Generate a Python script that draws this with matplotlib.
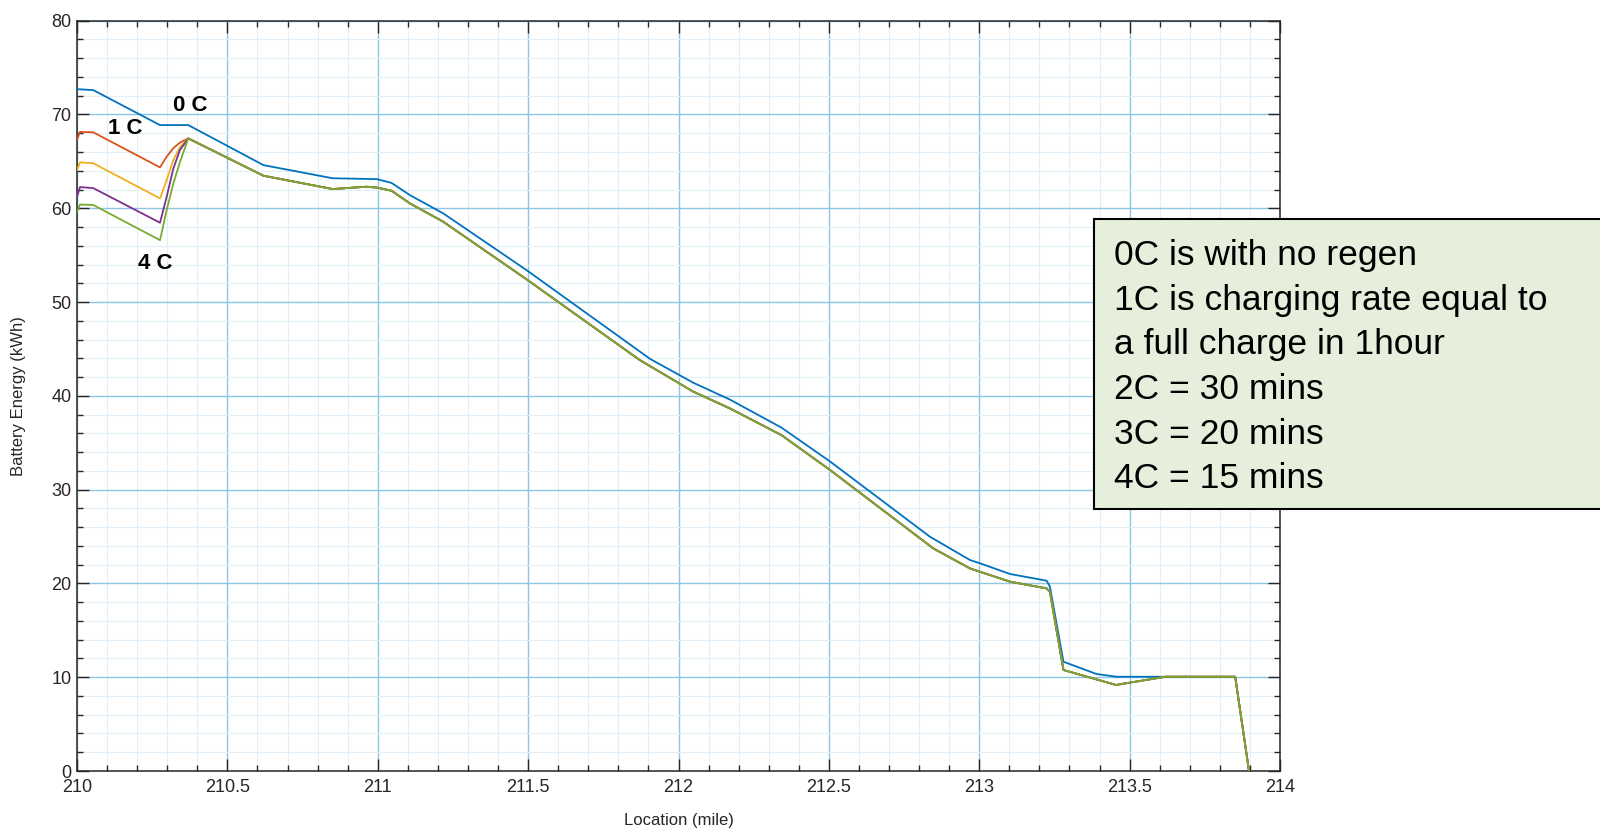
import numpy as np
import matplotlib
import matplotlib.pyplot as plt
from matplotlib.patches import Rectangle
from matplotlib.ticker import MultipleLocator

matplotlib.use("agg")

NARROW = ["Liberation Sans Narrow", "Liberation Sans", "DejaVu Sans"]
SANS = ["Liberation Sans", "DejaVu Sans"]

# 0C (no regen)
x_0c = [210.0, 210.054, 210.276, 210.37, 210.62, 210.85, 210.997, 211.046, 211.107,
        211.218, 211.495, 211.905, 212.049, 212.171, 212.343, 212.504, 212.836,
        212.969, 213.003, 213.103, 213.224, 213.235, 213.28, 213.39, 213.457,
        213.851, 213.897]
y_0c = [72.7, 72.6, 68.87, 68.87, 64.6, 63.2, 63.11, 62.7, 61.4,
        59.45, 53.4, 43.95, 41.4, 39.6, 36.6, 33.0, 24.98,
        22.5, 22.14, 21.0, 20.29, 19.65, 11.65, 10.34, 10.05,
        10.05, 0.0]

# regen curves differ only over the first stretch
x_start = [210.0, 210.01, 210.054, 210.276, 210.298, 210.32, 210.342]
y_1c_start = [67.3, 68.15, 68.1, 64.36, 65.5, 66.4, 67.0]
y_2c_start = [64.07, 64.9, 64.8, 61.05, 63.0, 65.14, 66.5]
y_3c_start = [61.2, 62.26, 62.15, 58.46, 61.2, 64.2, 66.2]
y_4c_start = [59.6, 60.4, 60.35, 56.6, 59.8, 62.6, 64.9]

# shared by 1C..4C after the peak
x_tail = [210.37, 210.62, 210.85, 210.963, 211.0, 211.046, 211.107, 211.218,
          211.495, 211.872, 212.049, 212.171, 212.343, 212.504, 212.847,
          212.969, 213.103, 213.224, 213.235, 213.28, 213.455, 213.5, 213.62,
          213.851, 213.897]
y_tail = [67.45, 63.47, 62.05, 62.3, 62.19, 61.87, 60.52, 58.56,
          52.42, 43.8, 40.45, 38.66, 35.8, 32.09, 23.74,
          21.6, 20.18, 19.47, 19.1, 10.77, 9.17, 9.42, 10.05,
          10.05, 0.0]

colors = ["#0072BD", "#D95319", "#EDB120", "#7E2F8E", "#77AC30"]

note_lines = ["0C is with no regen",
              "1C is charging rate equal to",
              "a full charge in 1hour",
              "2C = 30 mins",
              "3C = 20 mins",
              "4C = 15 mins"]

W, H = 1600, 831
fig = plt.figure(figsize=(W / 100, H / 100), dpi=100)
ax = fig.add_axes([77 / W, 1 - 771 / H, (1280 - 77) / W, (771 - 20.7) / H])

ax.plot(x_0c, y_0c, color=colors[0], lw=1.3, zorder=3)
for i, ys in enumerate([y_1c_start, y_2c_start, y_3c_start, y_4c_start]):
    ax.plot(x_start + x_tail, ys + y_tail, color=colors[i + 1], lw=1.3, zorder=3)

ax.set_xlim(210, 214)
ax.set_ylim(0, 80)
ax.xaxis.set_major_locator(MultipleLocator(0.5))
ax.xaxis.set_minor_locator(MultipleLocator(0.1))
ax.yaxis.set_major_locator(MultipleLocator(10))
ax.yaxis.set_minor_locator(MultipleLocator(2))
ax.xaxis.set_major_formatter(matplotlib.ticker.FuncFormatter(lambda v, p: f"{v:g}"))

ax.grid(which="major", color="#8cc6e4", lw=1.0, zorder=0)
ax.grid(which="minor", color="#e2eff8", lw=0.8, zorder=0)
ax.set_axisbelow(True)

ax.tick_params(which="both", direction="in", top=True, right=True,
               color="#262626", width=1.0, labelsize=13, labelcolor="#262626")
ax.tick_params(which="major", length=8.5)
ax.tick_params(which="minor", length=4.3)
ax.tick_params(axis="x", pad=6)
ax.tick_params(axis="y", pad=4)
for lab in ax.get_xticklabels() + ax.get_yticklabels():
    lab.set_family(NARROW)
for sp in ax.spines.values():
    sp.set_color("#262626")
    sp.set_linewidth(1.1)

ax.set_xlabel("Location (mile)", family=NARROW, fontsize=12, color="#262626")
ax.xaxis.set_label_coords(0.5, -(821 - 771) / (771 - 20.7))
ax.xaxis.label.set_va("center")
ax.set_ylabel("Battery Energy (kWh)", family=NARROW, fontsize=12, color="#262626")
ax.yaxis.set_label_coords((18.4 - 77) / (1280 - 77), 0.5)
ax.yaxis.label.set_va("center")

# curve labels
ax.text(210.376, 71.0, "0 C", family=NARROW, fontsize=16, fontweight="bold",
        ha="center", va="center")
ax.text(210.16, 68.55, "1 C", family=NARROW, fontsize=16, fontweight="bold",
        ha="center", va="center")
ax.text(210.26, 54.16, "4 C", family=NARROW, fontsize=16, fontweight="bold",
        ha="center", va="center")

# explanation box on top of the axes
box = Rectangle((1094 / W, 1 - 509 / H), (W - 1094 + 10) / W, 290 / H,
                transform=fig.transFigure, facecolor="#e6efdc", edgecolor="black",
                lw=1.5, zorder=10)
fig.add_artist(box)
for k, line in enumerate(note_lines):
    fig.text(1114 / W, 1 - (265 + 44.7 * k) / H, line, family=SANS, fontsize=25.5,
             va="baseline", ha="left", zorder=11)

fig.savefig("out.png", dpi=100)
